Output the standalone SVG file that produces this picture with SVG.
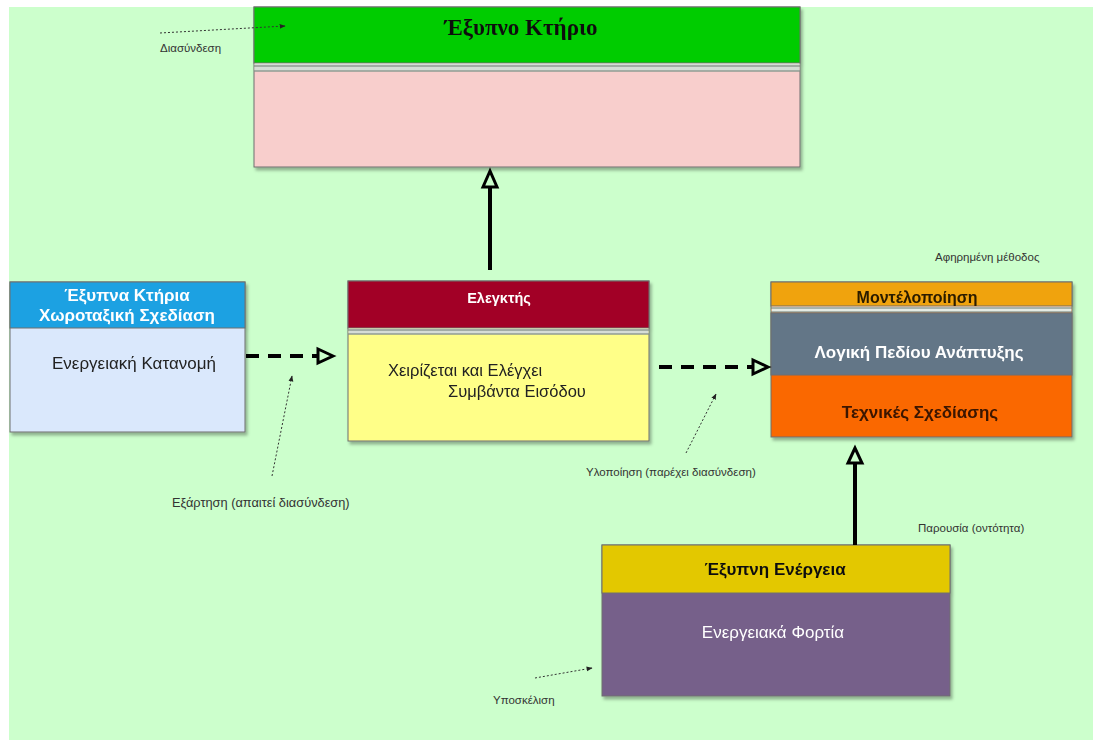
<svg xmlns="http://www.w3.org/2000/svg" width="1093" height="740" viewBox="0 0 1093 740">
  <defs>
    <filter id="shadow" x="-5%" y="-5%" width="112%" height="115%">
      <feDropShadow dx="2" dy="3" stdDeviation="1.5" flood-color="#000" flood-opacity="0.3"/>
    </filter>
    <marker id="tip" viewBox="0 0 10 10" refX="9" refY="5" markerWidth="6" markerHeight="6" orient="auto">
      <path d="M0,1 L10,5 L0,9 Z" fill="#222"/>
    </marker>
    <style>
      .sans { font-family: "Liberation Sans", Arial, sans-serif; }
      .serif { font-family: "Liberation Serif", "Times New Roman", serif; }
      .box { stroke: #6e6e6e; stroke-width: 1; }
      .sep { stroke: #6f7d72; stroke-width: 1.2; }
      .title { font-size: 17px; font-weight: bold; text-anchor: middle; }
      .body { font-size: 17px; }
      .note { font-size: 11.5px; fill: #333; }
      .solid { stroke: #000; stroke-width: 4; fill: none; }
      .dash { stroke: #000; stroke-width: 4; fill: none; stroke-dasharray: 13 9; }
      .head { fill: #CCFFCC; stroke: #000; stroke-width: 3; stroke-linejoin: miter; }
      .dot { stroke: #333; stroke-width: 1; fill: none; stroke-dasharray: 2 2; marker-end: url(#tip); }
    </style>
  </defs>

  <!-- canvas -->
  <rect x="9" y="7" width="1084" height="733" fill="#CCFFCC"/>

  <!-- Έξυπνο Κτήριο -->
  <g id="smart-building" filter="url(#shadow)">
    <rect class="box" x="254" y="7" width="546" height="160" fill="#F8CECC"/>
    <rect class="box" x="254" y="7" width="546" height="56" fill="#00CC00"/>
    <rect x="254.5" y="63.5" width="545" height="8" fill="#d6ddd6"/>
    <line class="sep" x1="254" y1="66" x2="800" y2="66"/>
    <line class="sep" x1="254" y1="71" x2="800" y2="71"/>
    <text class="serif" x="521" y="35" font-size="23" font-weight="bold" text-anchor="middle" fill="#111">Έξυπνο Κτήριο</text>
  </g>

  <!-- Έξυπνα Κτήρια Χωροταξική Σχεδίαση -->
  <g id="spatial-design" filter="url(#shadow)">
    <rect class="box" x="10" y="282" width="235" height="150" fill="#DAE8FC"/>
    <rect class="box" x="10" y="282" width="235" height="46" fill="#1BA1E2"/>
    <text class="sans title" x="127" y="301" fill="#fff">Έξυπνα Κτήρια</text>
    <text class="sans title" x="127" y="321" fill="#fff">Χωροταξική Σχεδίαση</text>
    <text class="sans body" x="134" y="369" text-anchor="middle" fill="#222">Ενεργειακή Κατανομή</text>
  </g>

  <!-- Ελεγκτής -->
  <g id="controller" filter="url(#shadow)">
    <rect class="box" x="348" y="281" width="301" height="160" fill="#FFFF88"/>
    <rect class="box" x="348" y="281" width="301" height="47" fill="#A20025"/>
    <rect x="348.5" y="328.5" width="300" height="6" fill="#d6ddd6"/>
    <line class="sep" x1="348" y1="330" x2="649" y2="330"/>
    <line class="sep" x1="348" y1="334" x2="649" y2="334"/>
    <text class="sans title" x="499" y="303" style="font-size:14.5px" fill="#fff">Ελεγκτής</text>
    <text class="sans body" x="388" y="376" style="font-size:16.5px" fill="#222">Χειρίζεται και Ελέγχει</text>
    <text class="sans body" x="448" y="397" style="font-size:16.5px" fill="#222">Συμβάντα Εισόδου</text>
  </g>

  <!-- Μοντέλοποίηση -->
  <g id="modelling" filter="url(#shadow)">
    <rect class="box" x="771" y="282" width="301" height="155" fill="#FA6800"/>
    <rect class="box" x="771" y="282" width="301" height="24" fill="#F0A30A"/>
    <rect x="771.5" y="306.5" width="300" height="6" fill="#e4ebe4"/>
    <line class="sep" x1="771" y1="308" x2="1072" y2="308"/>
    <line class="sep" x1="771" y1="312" x2="1072" y2="312"/>
    <rect class="box" x="771" y="313" width="301" height="62" fill="#647687"/>
    <text class="sans title" x="917" y="303" style="font-size:16px" fill="#2a1a00">Μοντέλοποίηση</text>
    <text class="sans title" x="919" y="358" fill="#fff">Λογική Πεδίου Ανάπτυξης</text>
    <text class="sans title" x="920" y="418" fill="#3a1500">Τεχνικές Σχεδίασης</text>
  </g>

  <!-- Έξυπνη Ενέργεια -->
  <g id="smart-energy" filter="url(#shadow)">
    <rect class="box" x="602" y="545" width="348" height="151" fill="#76608A"/>
    <rect class="box" x="602" y="545" width="348" height="48" fill="#E3C800"/>
    <text class="sans title" x="775" y="575" fill="#111">Έξυπνη Ενέργεια</text>
    <text class="sans body" x="773" y="638" text-anchor="middle" fill="#fff">Ενεργειακά Φορτία</text>
  </g>

  <!-- connectors -->
  <g id="connectors">
    <!-- Ελεγκτής → Έξυπνο Κτήριο -->
    <line class="solid" x1="490" y1="270" x2="490" y2="187"/>
    <polygon class="head" points="490,171 483,187 497,187"/>
    <!-- Χωροταξική Σχεδίαση ⇢ Ελεγκτής -->
    <line class="dash" x1="246" y1="356" x2="318" y2="356"/>
    <polygon class="head" points="333,356 318,349 318,363"/>
    <!-- Ελεγκτής ⇢ Μοντέλοποίηση -->
    <line class="dash" x1="659" y1="367" x2="753" y2="367"/>
    <polygon class="head" points="768,367 753,360 753,374"/>
    <!-- Έξυπνη Ενέργεια → Μοντέλοποίηση -->
    <line class="solid" x1="855" y1="545" x2="855" y2="463"/>
    <polygon class="head" points="855,448 848,463 862,463"/>
  </g>

  <!-- annotations -->
  <g id="notes">
    <line class="dot" x1="160" y1="33" x2="285" y2="26"/>
    <text class="sans note" x="160" y="52">Διασύνδεση</text>

    <line class="dot" x1="272" y1="476" x2="292" y2="376"/>
    <text class="sans note" x="172" y="507" style="font-size:12.8px">Εξάρτηση (απαιτεί διασύνδεση)</text>

    <line class="dot" x1="686" y1="453" x2="716" y2="394"/>
    <text class="sans note" x="586" y="476">Υλοποίηση (παρέχει διασύνδεση)</text>

    <text class="sans note" x="935" y="261">Αφηρημένη μέθοδος</text>
    <text class="sans note" x="918" y="532">Παρουσία (οντότητα)</text>

    <line class="dot" x1="535" y1="678" x2="592" y2="668"/>
    <text class="sans note" x="493" y="704">Υποσκέλιση</text>
  </g>
</svg>
